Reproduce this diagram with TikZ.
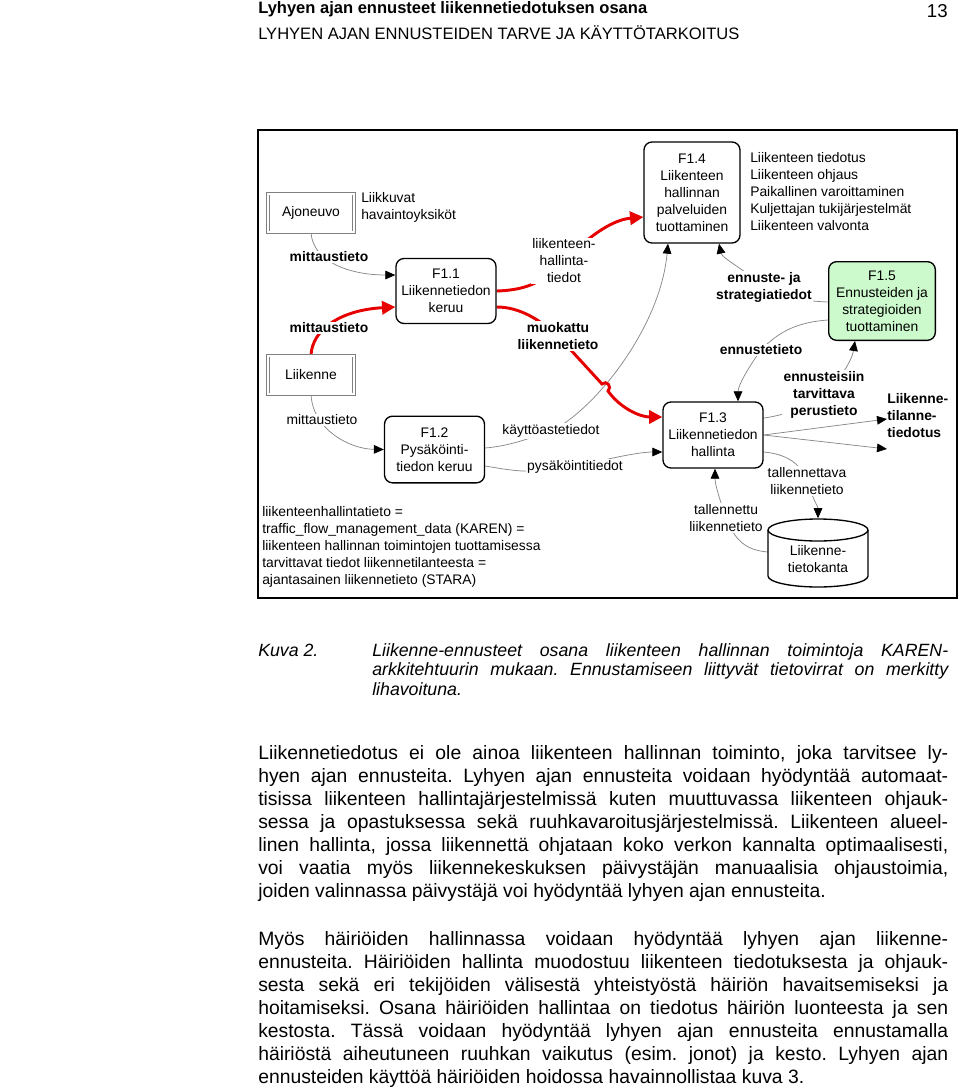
\documentclass[tikz,border=0pt]{standalone}
\usepackage{fontspec}
\setmainfont{Liberation Sans}
\usepackage{tikz}
\usetikzlibrary{shapes.geometric, arrows.meta, positioning, calc, backgrounds}

\definecolor{flowgray}{RGB}{135,135,135}
\definecolor{keyred}{RGB}{230,0,0}
\definecolor{procgreen}{RGB}{204,250,204}
\newcommand{\dfont}{\fontsize{10.4}{12.75}\selectfont}
\newcommand{\pfont}{\fontsize{14.5}{17.25}\selectfont}
\newcommand{\cfont}{\fontsize{13.3}{14.6}\selectfont}
\frenchspacing

\begin{document}
\begin{tikzpicture}[
    x=0.75pt, y=-0.75pt,
    proc/.style={rectangle, draw, rounded corners=6pt, line width=1pt,
                 fill=white, align=center, font=\dfont, inner sep=1pt},
    ext/.style={rectangle, draw=gray, double, double distance=1.6pt,
                line width=0.5pt, fill=white, font=\dfont},
    store/.style={line width=1pt, fill=white},
    lbl/.style={fill=white, inner sep=1pt, align=center, font=\dfont},
    blbl/.style={lbl, font=\dfont\bfseries},
    flow/.style={draw=flowgray, line width=0.55pt,
                 -{Triangle[length=7.5pt, width=6.5pt, black]}},
    keyflow/.style={draw=keyred, line width=2.2pt,
                    -{Triangle[length=10pt, width=10pt]}},
    para/.style={anchor=base west, inner sep=0pt},
]
\useasboundingbox (0,0) rectangle (960,1092);

% ── Page header ──
\node[para, font=\fontsize{12.4}{14}\selectfont\bfseries] (head) at (258,13.5)
  {Lyhyen ajan ennusteet liikennetiedotuksen osana};
\node[anchor=base east, inner sep=0pt, font=\fontsize{14}{16}\selectfont] (page) at (948,17) {13};
\node[para, font=\fontsize{12.4}{14}\selectfont] (section) at (258,39.5)
  {LYHYEN AJAN ENNUSTEIDEN TARVE JA KÄYTTÖTARKOITUS};

% ── Frame ──
\draw[line width=1.1pt] (258,130) rectangle (957,598);

% ── Data store (cylinder) ──
\filldraw[store] (768,530) -- (768,576) arc[start angle=180, end angle=0, x radius=50, y radius=11]
  -- (868,530) arc[start angle=0, end angle=-180, x radius=50, y radius=11] -- cycle;
\draw[store, fill=none] (768,530) arc[start angle=180, end angle=0, x radius=50, y radius=11];

% ── Processes and stores ──
\node[ext, minimum width=64.5pt, minimum height=29pt] (ajo) at (311,213) {Ajoneuvo};
\node[ext, minimum width=64.5pt, minimum height=29pt] (liik) at (311,375) {Liikenne};
\node[proc, minimum width=75pt, minimum height=48.75pt] (keruu) at (446,291)
  {F1.1\\Liikennetiedon\\keruu};
\node[proc, minimum width=75pt, minimum height=50pt] (pysak) at (434.5,449.5)
  {F1.2\\Pysäköinti-\\tiedon keruu};
\node[proc, minimum width=75pt, minimum height=49.5pt] (hallinta) at (713,435)
  {F1.3\\Liikennetiedon\\hallinta};
\node[proc, minimum width=72pt, minimum height=75.75pt] (palvelu) at (692,192.5)
  {F1.4\\Liikenteen\\hallinnan\\palveluiden\\tuottaminen};
\node[proc, fill=procgreen, minimum width=80pt, minimum height=59pt] (ennuste) at (882,301)
  {F1.5\\Ennusteiden ja\\strategioiden\\tuottaminen};
\node[minimum width=75pt, minimum height=60pt, inner sep=0pt, font=\dfont, align=center]
  (kanta) at (818,559) {Liikenne-\\tietokanta};

% ── Plain texts ──
\node[anchor=west, inner sep=0pt, align=left, font=\dfont] (havainto) at (361,207)
  {Liikkuvat\\havaintoyksiköt};
\node[anchor=west, inner sep=0pt, align=left, font=\dfont] (palvelut) at (750,192)
  {Liikenteen tiedotus\\Liikenteen ohjaus\\Paikallinen varoittaminen\\
   Kuljettajan tukijärjestelmät\\Liikenteen valvonta};
\node[anchor=west, inner sep=0pt, align=left, font=\dfont\bfseries] (tilanne) at (887,416)
  {Liikenne-\\tilanne-\\tiedotus};
\node[anchor=west, inner sep=0pt, align=left, font=\dfont] (selitys) at (262,547)
  {liikenteenhallintatieto =\\traffic\_flow\_management\_data (KAREN) =\\
   liikenteen hallinnan toimintojen tuottamisessa\\
   tarvittavat tiedot liikennetilanteesta =\\ajantasainen liikennetieto (STARA)};

% ── Flow labels ──
\node[blbl] (mit1) at (329,257) {mittaustieto};
\node[blbl] (mit2) at (329,328) {mittaustieto};
\node[lbl] (mit3) at (322,420) {mittaustieto};
\node[lbl] (hltied) at (564,261) {liikenteen-\\hallinta-\\tiedot};
\node[blbl] (muok) at (558,336) {muokattu\\liikennetieto};
\node[lbl] (kaytto) at (551,431) {käyttöastetiedot};
\node[lbl] (pystied) at (575,467) {pysäköintitiedot};
\node[blbl] (strat) at (764,287) {ennuste- ja\\strategiatiedot};
\node[blbl] (enntieto) at (761,350) {ennustetieto};
\node[blbl] (perus) at (824,395) {ennusteisiin\\tarvittava\\perustieto};
\node[lbl] (tallva) at (807,481) {tallennettava\\liikennetieto};
\node[lbl] (tallnu) at (726,518) {tallennettu\\liikennetieto};

% ── Flows ──
\begin{scope}[on background layer]
\draw[flow] (ajo.south) .. controls (313,262) and (350,275) .. ($(keruu.west)+(0,-16)$);
\draw[keyflow] (liik.north) .. controls (312,330) and (340,310) .. ($(keruu.west)+(0,16)$);
\draw[flow] (liik.south) .. controls (313,430) and (350,449) .. (pysak.west);
\draw[flow] ($(pysak.east)+(0,-1.5)$) .. controls (510,446) and (530,438) .. (kaytto.center)
  .. controls (592,412) and (660,330) .. ($(palvelu.south)+(-24,0)$);
\draw[flow] ($(pysak.east)+(0,16.5)$) .. controls (510,470) and (530,475) .. (pystied.center)
  .. controls (610,458) and (640,452) .. ($(hallinta.west)+(0,17)$);
\draw[keyflow] ($(keruu.east)+(0,0)$) .. controls (530,290) and (545,280) .. (hltied.center)
  .. controls (585,240) and (610,220) .. ($(palvelu.west)+(0,24.5)$);
\draw[keyflow] ($(keruu.east)+(0,16)$) .. controls (520,307) and (540,320) .. (muok.center)
  -- (602,384) .. controls (606.5,379.8) and (612.5,386.8) .. (608,391)
  .. controls (620,408) and (640,417) .. ($(hallinta.west)+(0,-18)$);
\draw[flow] ($(ennuste.west)+(0,1)$) .. controls (800,301) and (770,295) .. (strat.center)
  .. controls (745,270) and (722,258) .. ($(palvelu.south)+(27,0)$);
\draw[flow] ($(ennuste.west)+(0,19)$) .. controls (800,322) and (780,330) .. (enntieto.center)
  .. controls (750,365) and (738,385) .. ($(hallinta.north)+(25,0)$);
\draw[flow] ($(hallinta.east)+(0,-17)$) .. controls (780,416) and (800,410) .. (perus.center)
  .. controls (840,380) and (852,360) .. ($(ennuste.south)+(-27,0)$);
\draw[flow] (hallinta.east) -- ($(tilanne.west)+(0,3)$);
\draw[flow] (hallinta.east) -- ($(tilanne.west)+(0,33)$);
\draw[flow] ($(hallinta.east)+(0,17)$) .. controls (785,454) and (800,462) .. (tallva.center)
  .. controls (812,497) and (818,507) .. ($(kanta.north)+(0,-0.5)$);
\draw[flow] ($(kanta.west)+(0,-7)$) .. controls (745,550) and (735,540) .. (tallnu.center)
  .. controls (720,500) and (715,485) .. ($(hallinta.south)+(2,0)$);
\end{scope}

% ── Caption ──
\node[para, font=\cfont\itshape] (kuva) at (258,656.5) {Kuva 2.};
\node[para] (caption) at (372,656.5) {\parbox[t]{432pt}{\cfont\itshape
  Liikenne-ennusteet osana liikenteen hallinnan toimintoja KAREN-\linebreak
  arkkitehtuurin mukaan. Ennustamiseen liittyvät tietovirrat on merkitty\linebreak
  lihavoituna.}};

% ── Body text ──
\node[para] (body1) at (258,759) {\parbox[t]{517.5pt}{\pfont\hyphenpenalty=10000\tolerance=9999
  Liikennetiedotus ei ole ainoa liikenteen hallinnan toiminto, joka tarvitsee ly-\linebreak
  hyen ajan ennusteita. Lyhyen ajan ennusteita voidaan hyödyntää automaat-\linebreak
  tisissa liikenteen hallintajärjestelmissä kuten muuttuvassa liikenteen ohjauk-\linebreak
  sessa ja opastuksessa sekä ruuhkavaroitusjärjestelmissä. Liikenteen alueel-\linebreak
  linen hallinta, jossa liikennettä ohjataan koko verkon kannalta optimaalisesti,\linebreak
  voi vaatia myös liikennekeskuksen päivystäjän manuaalisia ohjaustoimia,\linebreak
  joiden valinnassa päivystäjä voi hyödyntää lyhyen ajan ennusteita.}};
\node[para] (body2) at (258,945) {\parbox[t]{517.5pt}{\pfont\hyphenpenalty=10000\tolerance=9999
  Myös häiriöiden hallinnassa voidaan hyödyntää lyhyen ajan liikenne-\linebreak
  ennusteita. Häiriöiden hallinta muodostuu liikenteen tiedotuksesta ja ohjauk-\linebreak
  sesta sekä eri tekijöiden välisestä yhteistyöstä häiriön havaitsemiseksi ja\linebreak
  hoitamiseksi. Osana häiriöiden hallintaa on tiedotus häiriön luonteesta ja sen\linebreak
  kestosta. Tässä voidaan hyödyntää lyhyen ajan ennusteita ennustamalla\linebreak
  häiriöstä aiheutuneen ruuhkan vaikutus (esim. jonot) ja kesto. Lyhyen ajan\linebreak
  ennusteiden käyttöä häiriöiden hoidossa havainnollistaa kuva 3.}};

\end{tikzpicture}
\end{document}
